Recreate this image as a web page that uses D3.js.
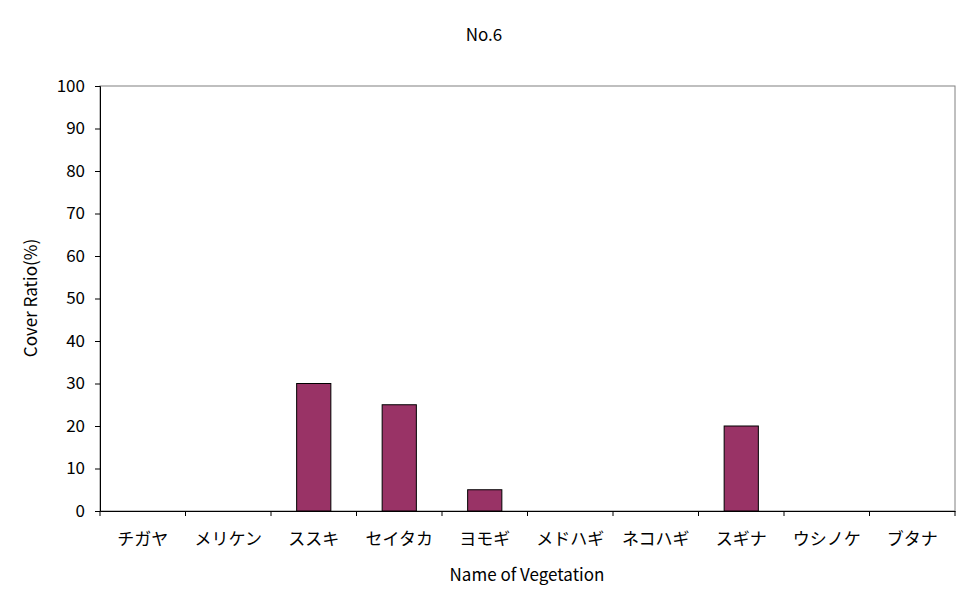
<!DOCTYPE html>
<html><head><meta charset="utf-8">
<script src="https://cdn.jsdelivr.net/npm/d3@7"></script>
<style>body{margin:0;background:#fff}text{font-family:"Noto Sans CJK JP",sans-serif;fill:#000}</style>
</head><body><div id="chart"></div>
<script>
const categories = ["チガヤ","メリケン","ススキ","セイタカ","ヨモギ","メドハギ","ネコハギ","スギナ","ウシノケ","ブタナ"];
const coverValues = [0,0,30,25,5,0,0,20,0,0];
const yTicks = [0,10,20,30,40,50,60,70,80,90,100];

const width = 970, height = 603;
const margin = {left:100, right:15, top:86, bottom:92};

const svg = d3.select("#chart").append("svg").attr("width", width).attr("height", height);

const x = d3.scaleBand().domain(categories).range([margin.left, width - margin.right]);
const y = d3.scaleLinear().domain([0,100]).range([height - margin.bottom, margin.top]);

// plot frame
svg.append("rect")
    .attr("x", margin.left).attr("y", margin.top)
    .attr("width", width - margin.left - margin.right)
    .attr("height", height - margin.top - margin.bottom)
    .attr("fill", "none").attr("stroke", "#808080");

// bars
const barW = x.bandwidth() * 0.4;
svg.selectAll(".bar").data(categories.map((c, i) => ({c, v: coverValues[i]})).filter(d => d.v > 0))
    .enter().append("rect")
    .attr("x", d => x(d.c) + (x.bandwidth() - barW) / 2)
    .attr("y", d => y(d.v))
    .attr("width", barW)
    .attr("height", d => y(0) - y(d.v))
    .attr("fill", "#993366").attr("stroke", "#000");

// y axis
const yAxis = svg.append("g").attr("transform", `translate(${margin.left},0)`)
    .call(d3.axisLeft(y).tickValues(yTicks).tickSize(5).tickPadding(10));
yAxis.selectAll("text").style("font-size", "17px");

// x axis
const xAxis = svg.append("g").attr("transform", `translate(0,${y(0)})`)
    .call(d3.axisBottom(x).tickSize(0).tickPadding(22));
xAxis.selectAll("text").style("font-size", "17px");
xAxis.append("g").selectAll("line").data(d3.range(categories.length + 1))
    .enter().append("line")
    .attr("x1", i => margin.left + i * x.step()).attr("x2", i => margin.left + i * x.step())
    .attr("y1", 0).attr("y2", 5).attr("stroke", "#000");
svg.selectAll(".domain").attr("stroke", "#000");

svg.append("text").attr("x", 484).attr("y", 41).attr("text-anchor", "middle")
    .style("font-size", "17px").text("No.6");
svg.append("text").attr("x", 527).attr("y", 581).attr("text-anchor", "middle")
    .style("font-size", "17px").text("Name of Vegetation");
svg.append("text").attr("transform", "translate(37,298) rotate(-90)").attr("text-anchor", "middle")
    .style("font-size", "17px").text("Cover Ratio(%)");
</script></body></html>
